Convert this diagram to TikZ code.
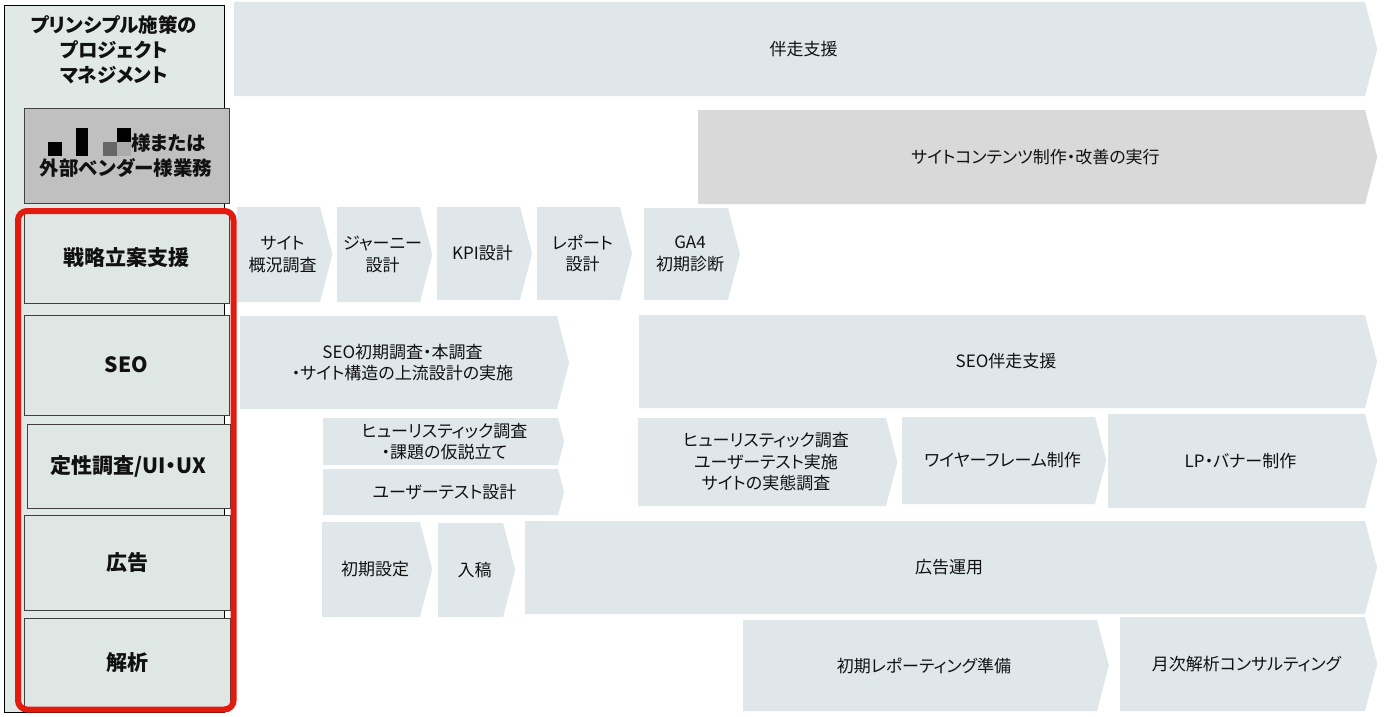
\documentclass[tikz,border=0pt]{standalone}
\usepackage{fontspec}
\setmainfont{Noto Sans CJK JP}[RawFeature={+palt}]
\usepackage{xcolor}
\usepackage{tikz}
\usetikzlibrary{calc}
\definecolor{chevbg}{HTML}{DFE7EA}
\definecolor{chevgray}{HTML}{D9D9D9}
\definecolor{colbg}{HTML}{E1E9E7}
\definecolor{catbg}{HTML}{DFE7E5}
\definecolor{vendor}{HTML}{C0C0C0}
\definecolor{frame}{HTML}{E31B0F}
\definecolor{ink}{HTML}{111111}
\tikzset{
  chevfill/.style={fill=chevbg},
  chevgrey/.style={fill=chevgray},
  lab/.style={text=ink, font=\fontsize{17}{21.5}\selectfont, align=center, inner sep=0pt},
  head/.style={text=ink, font=\fontsize{19.5}{25}\selectfont\bfseries, align=center, inner sep=0pt},
  cat/.style={draw=black!75, line width=0.9pt, fill=catbg, text=ink, font=\fontsize{21}{25}\selectfont\bfseries, inner sep=0pt},
  redframe/.style={draw=frame, line width=6pt, rounded corners=9pt},
}
\newcommand\chev[7][chevfill]{%
  \fill[#1] (#3,#4) -- (#5,#4) -- ({#5+0.13*(#6-#4)},{(#4+#6)/2}) -- (#5,#6) -- (#3,#6) -- cycle;
  \node[lab] (#2) at ({(#3+#5)/2+4},{(#4+#6)/2}) {#7};}
\begin{document}
\begin{tikzpicture}[x=1pt,y=-1pt]
  \useasboundingbox[fill=white] (0,0) rectangle (1384,717);
  \draw[fill=colbg, line width=0.9pt] (4,5) rectangle (224,712);
  \node[head] (title) at (114,50) {プリンシプル施策の\\プロジェクト\\マネジメント};
  \node[cat, fill=vendor, minimum width=205, minimum height=95] (vendorbox) at (126.5,155.5) {};
  \fill[black] (48,142) rectangle (62,156);
  \fill[black] (76,128) rectangle (88,156);
  \fill[black!60] (103,142) rectangle (117,156);
  \fill[black!33] (117,142) rectangle (131,156);
  \fill[black] (117,128) rectangle (131,142);
  \node[head, anchor=west] (vendorA) at (131,143) {様または};
  \node[head] (vendorB) at (126,168) {外部ベンダー様業務};
  \node[cat, minimum width=205, minimum height=90] (senryaku) at (126.5,258) {戦略立案支援};
  \node[cat, minimum width=205, minimum height=100] (seo) at (126.5,365) {SEO};
  \node[cat, minimum width=203, minimum height=84] (teisei) at (128.5,466) {定性調査/UI・UX};
  \node[cat, minimum width=206, minimum height=95] (koukoku) at (127,562.5) {広告};
  \node[cat, minimum width=206, minimum height=89] (kaiseki) at (127,662.5) {解析};
  \draw[redframe] (18,211) rectangle (233.5,709.5);
  \chev{bansou}{234}{2}{1365}{96}{伴走支援}
  \chev[chevgrey]{contents}{698}{110}{1365}{204}{サイトコンテンツ制作・改善の実行}
  \chev{gaikyo}{237}{207}{320}{302}{サイト\\概況調査}
  \chev{journey}{337}{207}{420}{302}{ジャーニー\\設計}
  \chev{kpi}{437}{207}{520}{300}{KPI設計}
  \chev{report}{537}{207}{620}{300}{レポート\\設計}
  \chev{ga4}{644}{208}{728}{300}{GA4\\初期診断}
  \chev{seoinit}{240}{316}{557}{409}{SEO初期調査・本調査\\・サイト構造の上流設計の実施}
  \chev{seorun}{639}{315}{1365}{408}{SEO伴走支援}
  \chev{heur}{323}{418}{558}{465}{ヒューリスティック調査\\・課題の仮説立て}
  \chev{utdesign}{323}{469}{558}{515}{ユーザーテスト設計}
  \chev{survey}{638}{418}{886}{506}{ヒューリスティック調査\\ユーザーテスト実施\\サイトの実態調査}
  \chev{wire}{902}{417}{1095}{504}{ワイヤーフレーム制作}
  \chev{lpbanner}{1108}{414}{1365}{508}{LP・バナー制作}
  \chev{setup}{322}{522}{420}{617}{初期設定}
  \chev{nyuko}{438}{523}{503}{617}{入稿}
  \chev{adrun}{525}{521}{1365}{614}{広告運用}
  \chev{repprep}{743}{620}{1097}{711}{初期レポーティング準備}
  \chev{monthly}{1120}{617}{1365}{711}{月次解析コンサルティング}
\end{tikzpicture}
\end{document}
